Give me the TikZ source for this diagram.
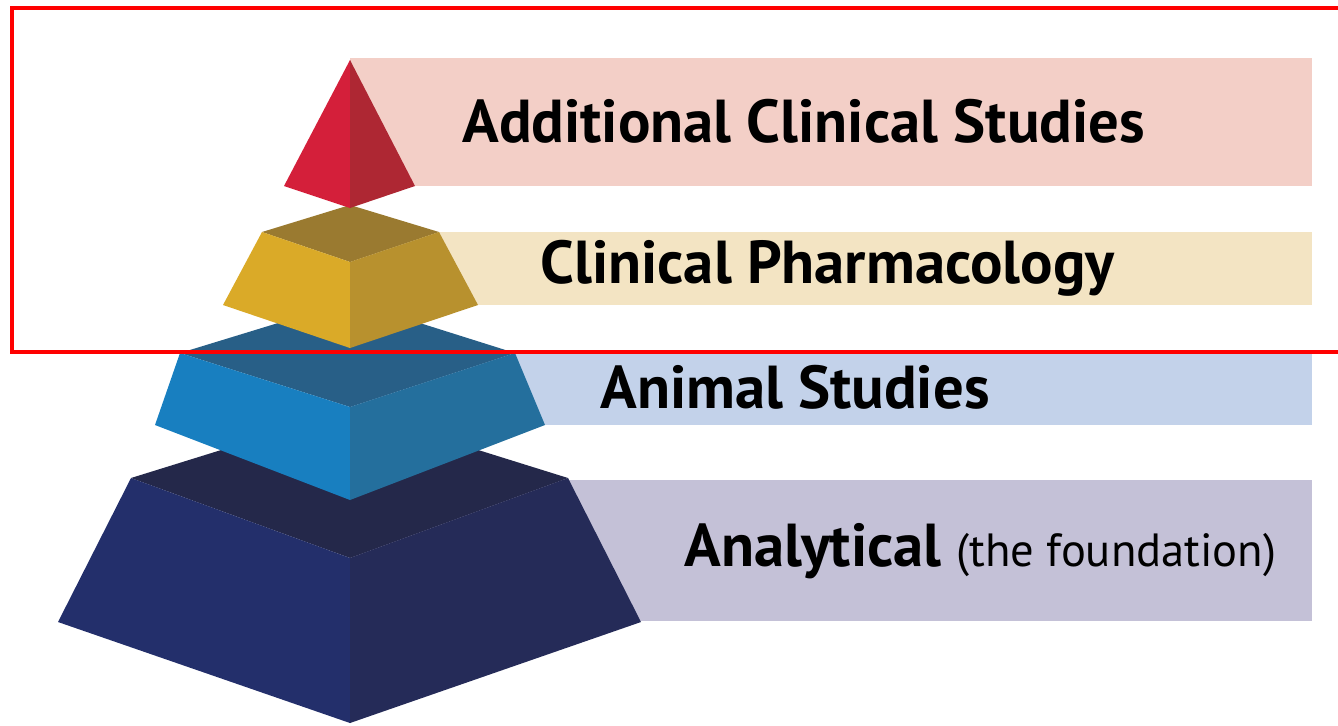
\documentclass[tikz,border=0pt]{standalone}
\usepackage{fontspec}
\setmainfont{PT Sans}
\usetikzlibrary{positioning}

\definecolor{bandred}{HTML}{F3CFC7}
\definecolor{bandgold}{HTML}{F3E4C3}
\definecolor{bandblue}{HTML}{C3D2EA}
\definecolor{bandnavy}{HTML}{C4C1D7}

\begin{document}
\begin{tikzpicture}[x=0.02cm, y=-0.02cm,
    band/.style={draw=none},
    bandtext/.style={inner sep=0pt, anchor=west, font=\bfseries\fontsize{34.5}{34.5}\selectfont},
    thintext/.style={inner sep=0pt, anchor=base west, font=\fontsize{26.5}{26.5}\selectfont}]
      \useasboundingbox (0, 0) rectangle (1338, 725);

      % bands behind the pyramid
      \fill[bandred] (350, 58) rectangle (1312, 186);
      \fill[bandgold] (350, 232) rectangle (1312, 305);
      \fill[bandblue] (350, 352) rectangle (1312, 425);
      \fill[bandnavy] (350, 480) rectangle (1312, 621);

      % base layer
      \fill[fill={rgb,255:red,36;green,40;blue,74}] (131, 478) -- (350, 410) -- (568, 478) -- (350, 558) -- cycle;
      \fill[fill={rgb,255:red,35;green,47;blue,107}] (131, 478) -- (350, 558) -- (350, 723) -- (58, 622) -- cycle;
      \fill[fill={rgb,255:red,37;green,43;blue,88}] (568, 478) -- (350, 558) -- (350, 723) -- (641, 622) -- cycle;

      % second layer
      \fill[fill={rgb,255:red,40;green,95;blue,135}] (180, 353) -- (350, 301) -- (515, 353) -- (350, 407) -- cycle;
      \fill[fill={rgb,255:red,24;green,127;blue,192}] (180, 353) -- (350, 407) -- (350, 500) -- (155, 425) -- cycle;
      \fill[fill={rgb,255:red,36;green,111;blue,157}] (515, 353) -- (350, 407) -- (350, 500) -- (545, 425) -- cycle;

      % third layer
      \fill[fill={rgb,255:red,154;green,122;blue,48}] (262, 232) -- (350, 205) -- (439, 232) -- (350, 262) -- cycle;
      \fill[fill={rgb,255:red,218;green,170;blue,40}] (262, 232) -- (350, 262) -- (350, 348) -- (223, 305) -- cycle;
      \fill[fill={rgb,255:red,184;green,145;blue,46}] (439, 232) -- (350, 262) -- (350, 348) -- (478, 305) -- cycle;

      % top
      \fill[fill={rgb,255:red,212;green,31;blue,58}] (350, 60) -- (284, 186) -- (350, 208) -- cycle;
      \fill[fill={rgb,255:red,174;green,39;blue,51}] (350, 60) -- (415, 186) -- (350, 208) -- cycle;

      % labels
      \node[bandtext] (top) at (462, 121) {Additional Clinical Studies};
      \node[bandtext] (pharma) at (540, 268) {Clinical Pharmacology};
      \node[bandtext] (animal) at (600, 387) {Animal Studies};
      \node[bandtext] (base) at (684, 551) {Analytical};
      \node[thintext] (note) at ([xshift=8pt]base.base east) {(the foundation)};

      % highlight frame
      \draw[red, line width=2.2pt] (12, 8) rectangle (1345, 352);

    \end{tikzpicture}
\end{document}
